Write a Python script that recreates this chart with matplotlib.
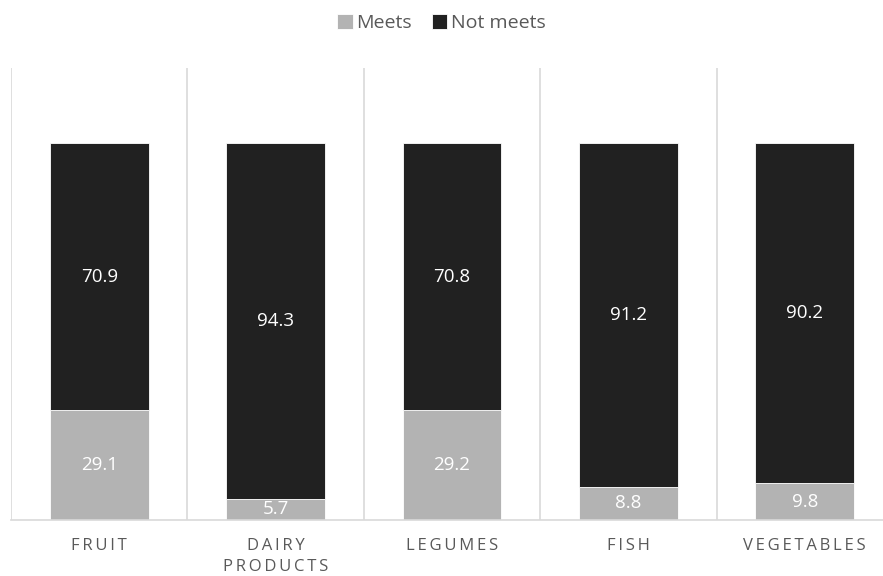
import matplotlib.pyplot as plt
import numpy as np

categories = ["FRUIT", "DAIRY\nPRODUCTS", "LEGUMES", "FISH", "VEGETABLES"]
meets = [29.1, 5.7, 29.2, 8.8, 9.8]
not_meets = [70.9, 94.3, 70.8, 91.2, 90.2]

plt.rcParams['font.family'] = ['Open Sans', 'DejaVu Sans']


def spaced(s):
    # mimic the letter spacing of the original axis labels
    return "\n".join("\u2009".join(line) for line in s.split("\n"))


fig = plt.figure(figsize=(8.83, 5.76), dpi=100)
ax = fig.add_axes([11 / 883, 1 - 520 / 576, 882 / 883, 452 / 576])

x = np.arange(len(categories))
b1 = ax.bar(x, meets, width=0.56, color="#b3b3b3", edgecolor="white", linewidth=0.6, label="Meets")
b2 = ax.bar(x, not_meets, width=0.56, bottom=meets, color="#212121", edgecolor="white", linewidth=0.6, label="Not meets")

for i in range(len(x)):
    ax.text(x[i], meets[i] / 2, f"{meets[i]:.1f}", ha="center", va="center", color="white", fontsize=13.5)
    ax.text(x[i], meets[i] + not_meets[i] / 2, f"{not_meets[i]:.1f}", ha="center", va="center", color="white", fontsize=13.5)

# separators between categories
for b in np.arange(-0.5, len(x), 1.0):
    ax.axvline(b, color="#d9d9d9", linewidth=1.2, zorder=0)

ax.set_xlim(-0.5, len(x) - 0.5)
ax.set_ylim(0, 120)
ax.set_yticks([])
ax.set_xticks(x)
ax.set_xticklabels([spaced(c) for c in categories], fontsize=12, color="#595959", linespacing=1.45)
ax.tick_params(axis="x", length=0, pad=13)
for s in ["top", "left", "right"]:
    ax.spines[s].set_visible(False)
ax.spines["bottom"].set_color("#d9d9d9")
ax.spines["bottom"].set_linewidth(1.2)

fig.legend(handles=[b1, b2], loc="upper center", bbox_to_anchor=(0.5, 1.006), ncol=2, frameon=False,
           fontsize=14, handlelength=0.8, handleheight=0.8, handletextpad=0.2, columnspacing=1.0,
           labelcolor="#595959")

fig.savefig("out.png", dpi=100)
